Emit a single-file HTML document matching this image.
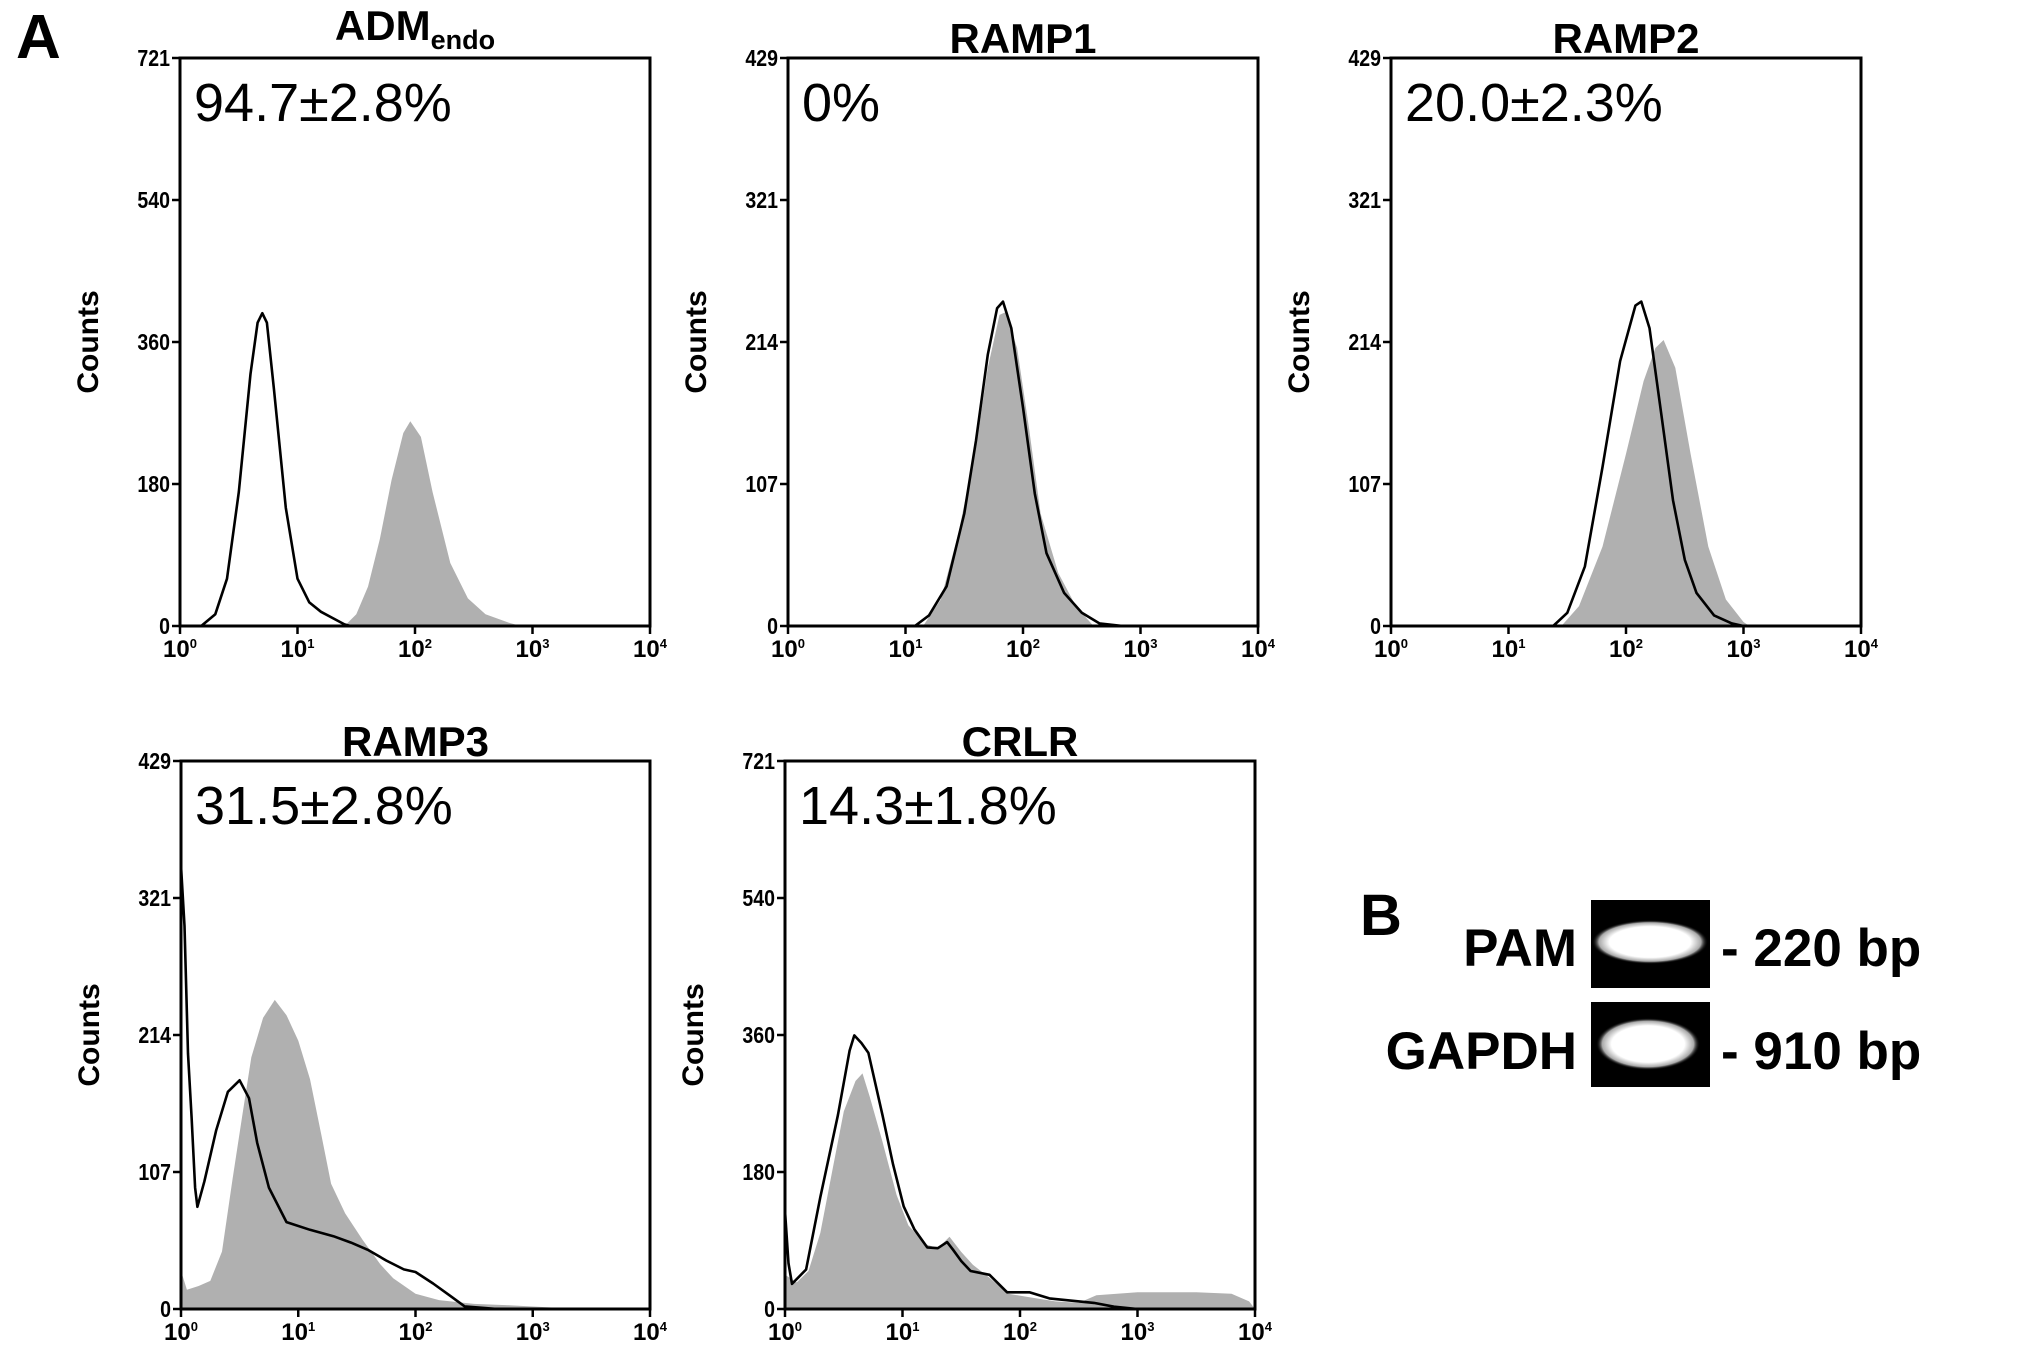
<!DOCTYPE html>
<html><head><meta charset="utf-8"><style>
html,body{margin:0;padding:0;background:#fff;}
svg{display:block;font-family:"Liberation Sans",sans-serif;}
</style></head><body>
<svg id="fig" width="2031" height="1357" viewBox="0 0 2031 1357">
<text x="16" y="58" font-size="62" font-weight="bold">A</text>
<g id="plots"></g>
<g transform="translate(-16,-9)">
<text x="1376" y="944" font-size="58" font-weight="bold">B</text>
<defs>
<radialGradient id="band" cx="50%" cy="50%" r="50%">
<stop offset="0" stop-color="#fff"/><stop offset="0.7" stop-color="#fff"/><stop offset="0.88" stop-color="#aaa"/><stop offset="1" stop-color="#000" stop-opacity="0"/>
</radialGradient>
</defs>
<text x="1593" y="975" font-size="53" font-weight="bold" text-anchor="end">PAM</text>
<rect x="1607" y="909" width="119" height="88" fill="#000"/>
<ellipse cx="1666" cy="951" rx="58" ry="22" fill="url(#band)"/>
<text x="1737" y="975" font-size="53" font-weight="bold">- 220 bp</text>
<text x="1593" y="1078" font-size="53" font-weight="bold" text-anchor="end">GAPDH</text>
<rect x="1607" y="1011" width="119" height="85" fill="#000"/>
<ellipse cx="1664" cy="1053" rx="52" ry="26" fill="url(#band)"/>
<text x="1737" y="1078" font-size="53" font-weight="bold">- 910 bp</text>
</g>
</svg>
<script>
// data: x values in log10 decades, y values in counts
const admCtrlX=[0.18,0.3,0.4,0.5,0.6,0.66,0.7,0.74,0.8,0.9,1.0,1.1,1.2,1.3,1.4,1.45];
const admCtrlY=[0,15,60,170,320,385,397,385,300,150,60,30,18,10,2,0];
const admFillX=[1.4,1.5,1.6,1.7,1.8,1.9,1.96,2.05,2.15,2.3,2.45,2.6,2.8,2.9];
const admFillY=[0,15,50,110,185,245,260,240,170,80,35,15,4,0];
const r1CtrlX=[1.08,1.2,1.35,1.5,1.6,1.7,1.78,1.83,1.9,2.0,2.1,2.2,2.35,2.5,2.65,2.85];
const r1CtrlY=[0,8,30,85,140,205,240,245,225,165,100,55,25,10,2,0];
const r1FillX=[1.15,1.3,1.45,1.6,1.7,1.8,1.85,1.95,2.05,2.15,2.3,2.45,2.6];
const r1FillY=[0,20,70,135,195,235,237,210,150,85,40,15,0];
const r2CtrlX=[1.38,1.5,1.65,1.8,1.95,2.08,2.13,2.2,2.3,2.4,2.5,2.6,2.75,2.9,3.0];
const r2CtrlY=[0,10,45,120,200,242,245,225,160,95,50,25,8,2,0];
const r2FillX=[1.45,1.6,1.8,2.0,2.15,2.25,2.32,2.42,2.55,2.7,2.85,3.0,3.05];
const r2FillY=[0,15,60,130,185,210,216,195,130,60,20,3,0];
const r3CtrlX=[0,0.03,0.06,0.09,0.12,0.14,0.2,0.3,0.4,0.5,0.58,0.65,0.75,0.9,1.1,1.3,1.45,1.6,1.75,1.9,2.0,2.15,2.3,2.42,2.7];
const r3CtrlY=[347,300,200,150,95,80,100,140,170,179,165,130,95,68,62,57,52,46,38,31,29,20,10,2,0];
const r3FillX=[0,0.05,0.15,0.25,0.35,0.44,0.52,0.6,0.7,0.8,0.9,1.0,1.1,1.2,1.28,1.4,1.55,1.7,1.81,2.0,2.2,2.5,2.8,3.2,3.3];
const r3FillY=[30,15,18,22,45,102,150,197,228,242,230,210,180,135,98,75,54,35,24,12,7,4,3,1,0];
const crCtrlX=[0,0.03,0.06,0.18,0.3,0.45,0.55,0.59,0.65,0.71,0.83,0.92,1.01,1.1,1.21,1.3,1.38,1.43,1.5,1.58,1.74,1.89,2.08,2.25,2.63,2.8,3.0];
const crCtrlY=[129,60,33,52,147,255,340,360,350,337,255,190,135,105,81,80,88,78,63,50,45,22,22,14,8,3,0];
const crFillX=[0,0.1,0.2,0.3,0.4,0.5,0.6,0.66,0.72,0.83,0.95,1.05,1.2,1.3,1.4,1.5,1.6,1.75,1.9,2.1,2.3,2.5,2.65,3.0,3.5,3.8,3.95,4.0];
const crFillY=[45,35,50,100,180,260,300,310,280,220,150,110,85,80,95,75,58,40,20,15,10,8,18,22,22,20,10,0];
const panelTitles=["ADM","RAMP1","RAMP2","RAMP3","CRLR"];
const panelPercents=["94.7±2.8%","0%","20.0±2.3%","31.5±2.8%","14.3±1.8%"];
const panelYMax=[721,429,429,429,721];
const yTicks721=["0","180","360","540","721"];
const yTicks429=["0","107","214","321","429"];
const xDecades=[0,1,2,3,4];

const layout=[
 {l:180,r:650,t:58,b:626},
 {l:788,r:1258,t:58,b:626},
 {l:1391,r:1861,t:58,b:626},
 {l:181,r:650,t:761,b:1309},
 {l:785,r:1255,t:761,b:1309}
];
const series=[
 [admFillX,admFillY,admCtrlX,admCtrlY],
 [r1FillX,r1FillY,r1CtrlX,r1CtrlY],
 [r2FillX,r2FillY,r2CtrlX,r2CtrlY],
 [r3FillX,r3FillY,r3CtrlX,r3CtrlY],
 [crFillX,crFillY,crCtrlX,crCtrlY]
];
const NS="http://www.w3.org/2000/svg";
const root=document.getElementById('plots');
function mk(tag,attrs,parent){const e=document.createElementNS(NS,tag);for(const k in attrs)e.setAttribute(k,attrs[k]);parent.appendChild(e);return e;}

layout.forEach((L,i)=>{
 const g=mk('g',{},root);
 
 
 const ymax=panelYMax[i];
 const xs=v=>L.l+(L.r-L.l)*v/4;
 const ys=v=>L.b-(L.b-L.t)*v/ymax;
 const [fx,fy,cx,cy]=series[i];
 let d='M'+xs(fx[0])+','+ys(0);
 fx.forEach((x,k)=>{d+=' L'+xs(x).toFixed(1)+','+ys(fy[k]).toFixed(1);});
 d+=' L'+xs(fx[fx.length-1])+','+ys(0)+' Z';
 const fp=mk('path',{d:d,fill:'#b0b0b0',stroke:'none'},g);
 
 
 let d2='';
 cx.forEach((x,k)=>{d2+=(k?' L':'M')+xs(x).toFixed(1)+','+ys(cy[k]).toFixed(1);});
 const cp=mk('path',{d:d2,fill:'none',stroke:'#000','stroke-width':2.6,'stroke-linejoin':'round'},g);
 
 
 const fr=mk('rect',{x:L.l,y:L.t,width:L.r-L.l,height:L.b-L.t,fill:'none',stroke:'#000','stroke-width':3},g);
 
 
 const labs=ymax===721?yTicks721:yTicks429;
 labs.forEach((t,k)=>{
  const y=L.b-(L.b-L.t)*k/4;
  mk('line',{x1:L.l-8,x2:L.l,y1:y,y2:y,stroke:'#000','stroke-width':2.5},g);
  const tx=mk('text',{x:L.l-10,y:y+8,'font-size':23,'font-weight':'bold','text-anchor':'end',transform:'translate('+(L.l-10)+',0) scale(0.85,1) translate('+(-(L.l-10))+',0)'},g);
  tx.textContent=t;
  
  
 });
 xDecades.forEach(dv=>{
  const x=xs(dv);
  mk('line',{x1:x,x2:x,y1:L.b,y2:L.b+8,stroke:'#000','stroke-width':2.5},g);
  const tx=mk('text',{x:x,y:L.b+31,'font-size':24,'font-weight':'bold','text-anchor':'middle'},g);
  
  
  tx.appendChild(document.createTextNode('10'));
  const sp=mk('tspan',{'font-size':13,dy:-9},tx);sp.textContent=String(dv);
 });
 const cyy=(L.t+L.b)/2;
 const yt=mk('text',{x:L.l-82,y:cyy,'font-size':30,'font-weight':'bold','text-anchor':'middle',transform:'rotate(-90 '+(L.l-82)+' '+cyy+')'},g);
 yt.textContent='Counts';
 
 
 const cxm=(L.l+L.r)/2;
 const tt=mk('text',{x:cxm,y:L.t-5,'font-size':42,'font-weight':'bold','text-anchor':'middle'},g);
 
 
 if(i===0){tt.setAttribute('y',L.t-18);tt.appendChild(document.createTextNode('ADM'));const s=mk('tspan',{'font-size':27,dy:9},tt);s.textContent='endo';}
 else tt.textContent=panelTitles[i];
 const pt=mk('text',{x:L.l+14,y:L.t+63,'font-size':54},g);
 pt.textContent=panelPercents[i];
 
 
});
</script>
</body></html>
